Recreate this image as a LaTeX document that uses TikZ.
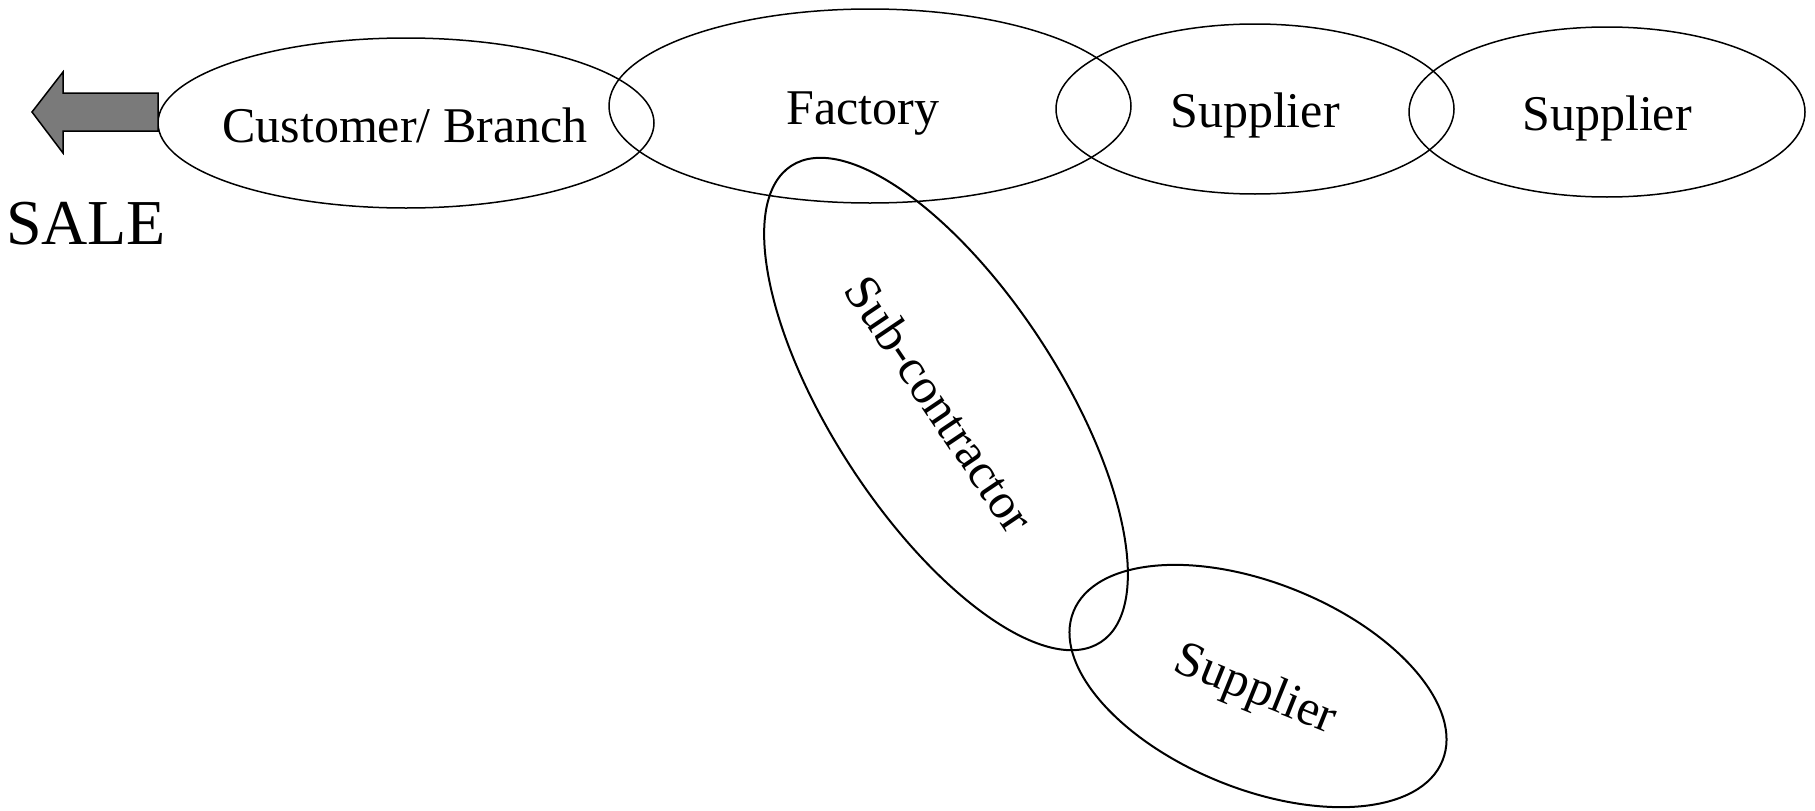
\documentclass[tikz,border=0pt]{standalone}
\usepackage{fontspec}
\setmainfont{Liberation Serif}
\usetikzlibrary{shapes.geometric}
\definecolor{arrowgray}{RGB}{122,122,122}
\tikzset{
  blob/.style={draw=black, line width=1.5pt, ellipse, inner sep=0pt, outer sep=0pt},
  tiltblob/.style={blob, line width=2pt},
  lbl/.style={inner sep=0pt, font=\fontsize{50}{60}\selectfont},
}
\begin{document}
\begin{tikzpicture}[x=1pt,y=-1pt]
\useasboundingbox (0,0) rectangle (1815,811);
% ellipses
\node[blob, minimum width=496pt, minimum height=170pt] (cust) at (406,123) {};
\node[blob, minimum width=522pt, minimum height=194pt] (fact) at (870,106) {};
\node[blob, minimum width=398pt, minimum height=170pt] (sup1) at (1255,109) {};
\node[blob, minimum width=396pt, minimum height=170pt] (sup2) at (1607,112) {};
\node[tiltblob, minimum width=568pt, minimum height=228pt, rotate=-57] (sub) at (946,404) {};
\node[tiltblob, minimum width=398pt, minimum height=206pt, rotate=-22] (sup3) at (1258,686) {};
% labels
\node[lbl] (custlbl) at (405,125) {Customer/ Branch};
\node[lbl] (factlbl) at (863,114) {Factory};
\node[lbl] (sup1lbl) at (1255,115) {Supplier};
\node[lbl] (sup2lbl) at (1607,118) {Supplier};
\node[lbl, rotate=-56] (sublbl) at (940,404) {Sub-contractor};
\node[lbl, rotate=-22] (sup3lbl) at (1255,691) {Supplier};
% block arrow pointing left
\draw[line width=1.5pt, fill=arrowgray, line join=miter]
  (158,93) -- (63,93) -- (63,72) -- (32,112) -- (63,153) -- (63,131) -- (158,131) -- cycle;
\node[inner sep=0pt, font=\fontsize{64}{70}\selectfont] (sale) at (86,224) {SALE};
\end{tikzpicture}
\end{document}
